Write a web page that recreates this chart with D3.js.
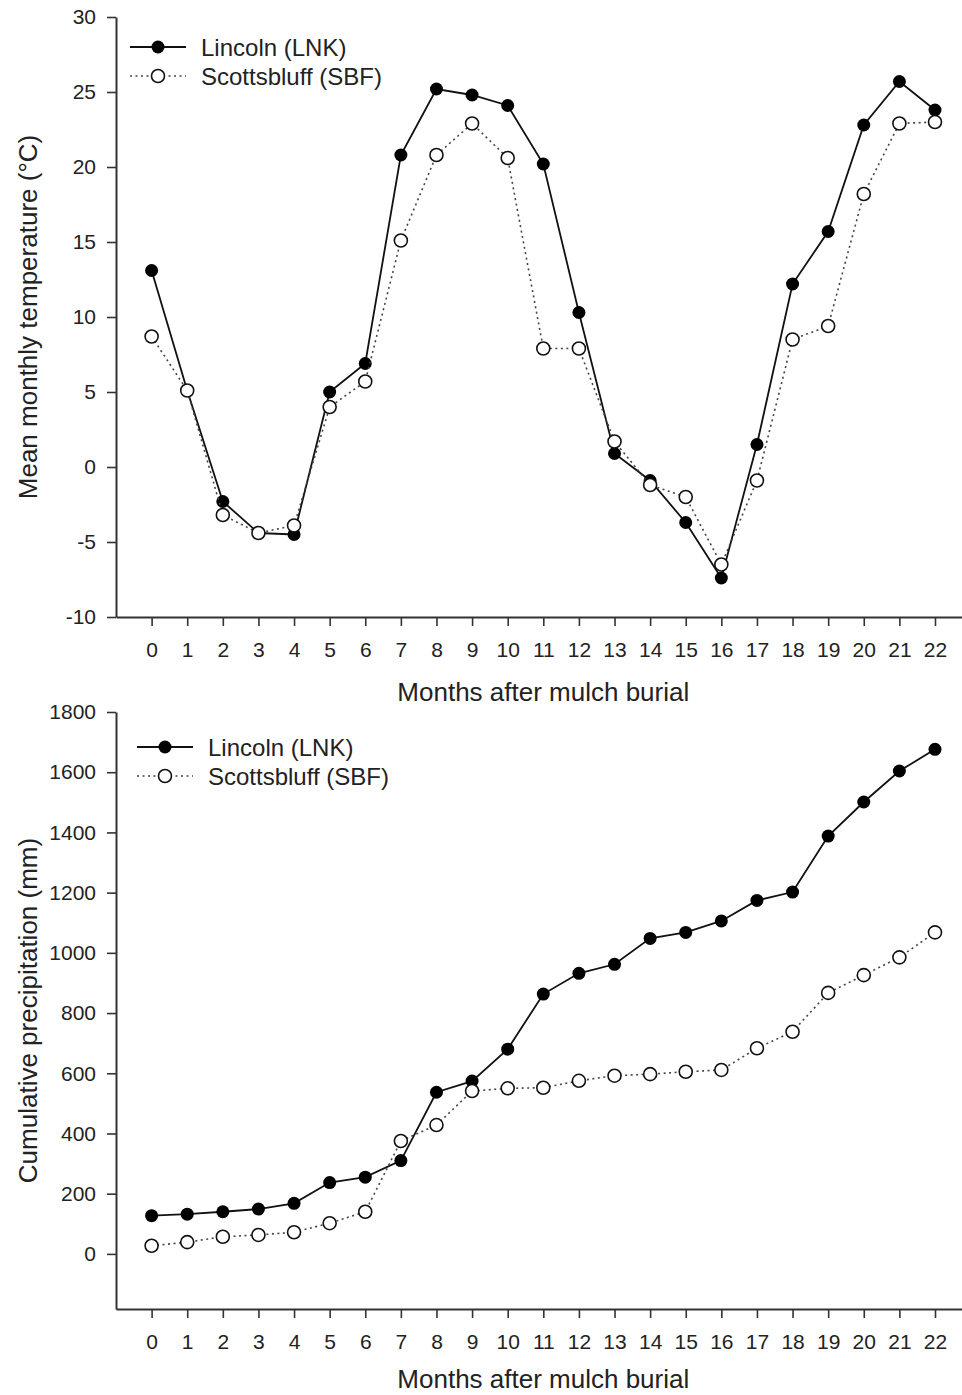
<!DOCTYPE html>
<html>
<head>
<meta charset="utf-8">
<style>
  body { margin: 0; background: #fff; }
  svg text { font-family: "Liberation Sans", Arial, sans-serif; fill: #222; }
</style>
</head>
<body>
<div id="chartId"></div>
<script src="https://cdn.jsdelivr.net/npm/d3@7/dist/d3.min.js"></script>
<script>

// months after burial (x categories)
const months = [0, 1, 2, 3, 4, 5, 6, 7, 8, 9, 10, 11, 12, 13, 14, 15, 16, 17, 18, 19, 20, 21, 22];

// mean monthly temperature (°C)
const lnkTemp = [13.1, 5.1, -2.3, -4.4, -4.5, 5.0, 6.9, 20.8, 25.2, 24.8, 24.1, 20.2, 10.3, 0.9, -0.9, -3.7, -7.4, 1.5, 12.2, 15.7, 22.8, 25.7, 23.8];
const sbfTemp = [8.7, 5.1, -3.2, -4.4, -3.9, 4.0, 5.7, 15.1, 20.8, 22.9, 20.6, 7.9, 7.9, 1.7, -1.2, -2.0, -6.5, -0.9, 8.5, 9.4, 18.2, 22.9, 23.0];

// cumulative precipitation (mm)
const lnkPrecip = [127, 132, 140, 149, 168, 237, 255, 310, 537, 574, 680, 863, 932, 962, 1048, 1068, 1106, 1174, 1202, 1388, 1501, 1604, 1676];
const sbfPrecip = [27, 39, 57, 63, 72, 102, 140, 375, 428, 541, 550, 552, 575, 592, 597, 605, 611, 683, 738, 867, 926, 985, 1068];

const seriesNames = ["Lincoln (LNK)", "Scottsbluff (SBF)"];
const tempTicks = [-10, -5, 0, 5, 10, 15, 20, 25, 30];
const precipTicks = [0, 200, 400, 600, 800, 1000, 1200, 1400, 1600, 1800];

const xTitle = "Months after mulch burial";

const svg = d3.select("#chartId").append("svg")
  .attr("width", 962)
  .attr("height", 1395);

const axisColor = "#333";
const r = 6.5;
// plain labels: ascii minus, no thousands separator
const plain = d => String(d);

function drawPanel(opts) {
  const x = d3.scaleLinear().domain([-1, 23]).range([116, 970.6]);
  const y = d3.scaleLinear().domain(opts.yDomain).range(opts.yRange);
  const g = svg.append("g");

  // axes
  const yAxis = d3.axisLeft(y).tickValues(opts.yTicks).tickFormat(plain)
    .tickSize(9).tickSizeOuter(0).tickPadding(11);
  const xAxis = d3.axisBottom(x).tickValues(months).tickFormat(plain)
    .tickSize(9).tickSizeOuter(0).tickPadding(16);

  const gy = g.append("g").attr("transform", "translate(" + x.range()[0] + ",0)").call(yAxis);
  const gx = g.append("g").attr("transform", "translate(0," + opts.yRange[0] + ")").call(xAxis);
  [gy, gx].forEach(a => {
    a.select(".domain").attr("stroke", axisColor).attr("stroke-width", 2);
    a.selectAll(".tick line").attr("stroke", axisColor).attr("stroke-width", 1.6);
    a.selectAll(".tick text").style("font-size", "21px").attr("fill", "#222");
  });

  // titles
  g.append("text")
    .attr("x", (x.range()[0] + x.range()[1]) / 2)
    .attr("y", opts.xTitleY)
    .attr("text-anchor", "middle")
    .style("font-size", "26px")
    .text(xTitle);

  g.append("text")
    .attr("transform", "translate(37," + ((opts.yRange[0] + opts.yRange[1]) / 2) + ") rotate(-90)")
    .attr("text-anchor", "middle")
    .style("font-size", "26px")
    .text(opts.yTitle);

  const line = d3.line().x((d, i) => x(months[i])).y(d => y(d));

  // Lincoln: solid line, filled circles
  g.append("path").datum(opts.lnk)
    .attr("fill", "none").attr("stroke", "#111").attr("stroke-width", 1.8)
    .attr("d", line);
  g.selectAll(null).data(opts.lnk).enter().append("circle")
    .attr("cx", (d, i) => x(months[i])).attr("cy", d => y(d)).attr("r", r)
    .attr("fill", "#000");

  // Scottsbluff: dotted line, open circles
  g.append("path").datum(opts.sbf)
    .attr("fill", "none").attr("stroke", "#444").attr("stroke-width", 1.6)
    .attr("stroke-dasharray", "2,3.5")
    .attr("d", line);
  g.selectAll(null).data(opts.sbf).enter().append("circle")
    .attr("cx", (d, i) => x(months[i])).attr("cy", d => y(d)).attr("r", r)
    .attr("fill", "#fff").attr("stroke", "#111").attr("stroke-width", 1.6);

  // legend
  const lg = g.append("g").attr("transform", "translate(" + opts.legend[0] + "," + opts.legend[1] + ")");
  seriesNames.forEach((name, i) => {
    const row = lg.append("g").attr("transform", "translate(0," + (i * 29) + ")");
    row.append("line").attr("x1", 0).attr("x2", 56).attr("y1", 0).attr("y2", 0)
      .attr("stroke", i === 0 ? "#111" : "#444")
      .attr("stroke-width", i === 0 ? 1.8 : 1.6)
      .attr("stroke-dasharray", i === 0 ? null : "2,3.5");
    row.append("circle").attr("cx", 28).attr("cy", 0).attr("r", r)
      .attr("fill", i === 0 ? "#000" : "#fff")
      .attr("stroke", "#111").attr("stroke-width", i === 0 ? 0 : 1.6);
    row.append("text").attr("x", 71).attr("y", 0).attr("dy", "0.36em")
      .style("font-size", "24px").text(name);
  });
}

drawPanel({
  yDomain: [-10, 30], yRange: [617, 17], yTicks: tempTicks,
  yTitle: "Mean monthly temperature (°C)",
  lnk: lnkTemp, sbf: sbfTemp,
  xTitleY: 701, legend: [130, 47]
});

drawPanel({
  yDomain: [-183, 1800], yRange: [1309, 712], yTicks: precipTicks,
  yTitle: "Cumulative precipitation (mm)",
  lnk: lnkPrecip, sbf: sbfPrecip,
  xTitleY: 1388, legend: [137, 747]
});

</script>
</body>
</html>
